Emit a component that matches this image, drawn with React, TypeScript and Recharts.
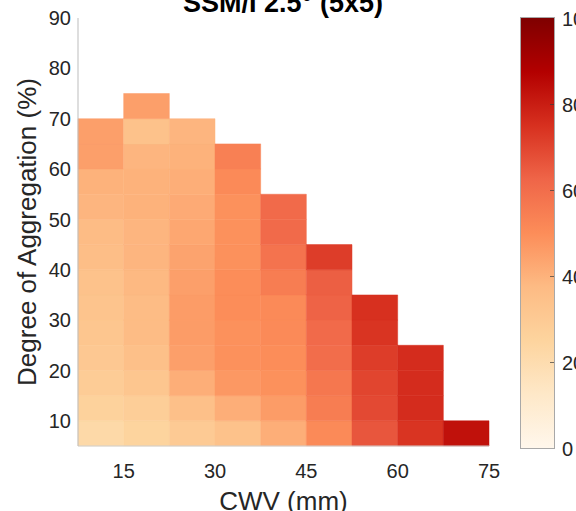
import React from "react";
import { ScatterChart, Scatter, XAxis, YAxis, ReferenceArea, Tooltip, Label } from "recharts";

// bin edges
const cwvEdges = [7.5, 15, 22.5, 30, 37.5, 45, 52.5, 60, 67.5, 75];
const aggEdges = [5, 10, 15, 20, 25, 30, 35, 40, 45, 50, 55, 60, 65, 70, 75];

const xTicks = [15, 30, 45, 60, 75];
const yTicks = [10, 20, 30, 40, 50, 60, 70, 80, 90];
const colorbarTicks = [0, 20, 40, 60, 80, 100];

// cell values per CWV column, from the lowest aggregation bin upward
const col1 = [22, 26, 29, 31, 32, 33, 34, 36, 37, 39, 40, 45, 45];
const col2 = [25, 28, 32, 35, 37, 37, 38, 39, 39, 40, 40, 39, 34, 45];
const col3 = [30, 35, 41, 45, 46, 46, 45, 44, 43, 42, 41, 40, 39];
const col4 = [34, 41, 47, 49, 49, 50, 50, 49, 49, 49, 51, 54];
const col5 = [41, 46, 49, 50, 51, 51, 55, 58, 61, 61];
const col6 = [51, 55, 57, 60, 61, 63, 64, 72];
const col7 = [66, 69, 70, 72, 74, 75];
const col8 = [74, 76, 76, 76];
const col9 = [83];
const columns = [col1, col2, col3, col4, col5, col6, col7, col8, col9];

const orRd = ["#fff7ec", "#fee8c8", "#fdd49e", "#fdbb84", "#fc8d59", "#ef6548", "#d7301f", "#b30000", "#7f0000"];

function hexToRgb(h: string) {
  return [1, 3, 5].map((i) => parseInt(h.slice(i, i + 2), 16));
}

function colorFor(v: number) {
  const t = (Math.max(0, Math.min(100, v)) / 100) * (orRd.length - 1);
  const i = Math.min(Math.floor(t), orRd.length - 2);
  const f = t - i;
  const a = hexToRgb(orRd[i]);
  const b = hexToRgb(orRd[i + 1]);
  const c = a.map((x, k) => Math.round(x + (b[k] - x) * f));
  return `rgb(${c[0]},${c[1]},${c[2]})`;
}

const cells = columns.flatMap((col, ci) =>
  col.map((value, ri) => ({
    x1: cwvEdges[ci],
    x2: cwvEdges[ci + 1],
    y1: aggEdges[ri],
    y2: aggEdges[ri + 1],
    cwv: (cwvEdges[ci] + cwvEdges[ci + 1]) / 2,
    agg: (aggEdges[ri] + aggEdges[ri + 1]) / 2,
    value,
  }))
);

const font = "'Liberation Sans', Arial, Helvetica, sans-serif";
const textColor = "#262626";

const renderYLabel = (props: any) => {
  const vb = props.viewBox;
  const x = vb.x + 36;
  const y = vb.y + vb.height / 2;
  return (
    <text x={x} y={y} transform={`rotate(-90 ${x} ${y})`} textAnchor="middle" fontSize={26} fill={textColor}>
      Degree of Aggregation (%)
    </text>
  );
};

const renderXLabel = (props: any) => {
  const vb = props.viewBox;
  return (
    <text x={vb.x + vb.width / 2} y={vb.y + vb.height - 1} textAnchor="middle" fontSize={26} fill={textColor}>
      CWV (mm)
    </text>
  );
};

// colorbar geometry
const cbTop = 17;
const cbHeight = 430;
const gradient = `linear-gradient(to top, ${orRd.map((c, i) => `${c} ${(i / (orRd.length - 1)) * 100}%`).join(", ")})`;

export default function App() {
  return (
    <div style={{ position: "absolute", left: 0, top: 0, width: 576, height: 511, overflow: "hidden", background: "#fff", fontFamily: font }}>
      <ScatterChart width={576} height={511} margin={{ top: 18, right: 87, bottom: 0, left: 0 }}>
        <XAxis
          type="number"
          dataKey="cwv"
          domain={[7.5, 75]}
          ticks={xTicks}
          allowDataOverflow
          height={65}
          tickSize={0}
          tickMargin={18}
          axisLine={{ stroke: "#cfcfcf" }}
          tick={{ fontSize: 20, fill: textColor }}
        >
          <Label content={renderXLabel} />
        </XAxis>
        <YAxis
          type="number"
          dataKey="agg"
          domain={[5, 90]}
          ticks={yTicks}
          allowDataOverflow
          width={78}
          tickSize={0}
          tickMargin={7}
          axisLine={{ stroke: "#bdbdbd" }}
          tick={{ fontSize: 20, fill: textColor }}
        >
          <Label content={renderYLabel} />
        </YAxis>
        {cells.map((c, i) => (
          <ReferenceArea
            key={i}
            x1={c.x1}
            x2={c.x2}
            y1={c.y1}
            y2={c.y2}
            fill={colorFor(c.value)}
            fillOpacity={1}
            stroke={colorFor(c.value)}
            strokeWidth={0.5}
          />
        ))}
        <Scatter data={cells} dataKey="value" isAnimationActive={false} shape={() => <g />} />
        <Tooltip cursor={false} />
      </ScatterChart>

      <svg width={576} height={40} style={{ position: "absolute", left: 0, top: 0, pointerEvents: "none" }}>
        <text x={283} y={12} textAnchor="middle" fontSize={27} fontWeight="bold" fill="#000">
          SSM/I 2.5° (5x5)
        </text>
      </svg>

      <div
        style={{
          position: "absolute",
          left: 520,
          top: cbTop,
          width: 33,
          height: cbHeight,
          border: "1px solid #a8a8a8",
          background: gradient,
        }}
      >
        {colorbarTicks.slice(1, -1).map((t) => (
          <div
            key={t}
            style={{
              position: "absolute",
              right: 0,
              top: cbHeight - (t / 100) * cbHeight,
              width: 4,
              height: 1,
              background: "rgba(60,60,60,0.7)",
            }}
          />
        ))}
      </div>
      {colorbarTicks.map((t) => (
        <div
          key={t}
          style={{
            position: "absolute",
            left: 562,
            top: cbTop + cbHeight - (t / 100) * cbHeight - 10,
            fontSize: 20,
            lineHeight: "24px",
            color: textColor,
            whiteSpace: "nowrap",
          }}
        >
          {t}
        </div>
      ))}
    </div>
  );
}
